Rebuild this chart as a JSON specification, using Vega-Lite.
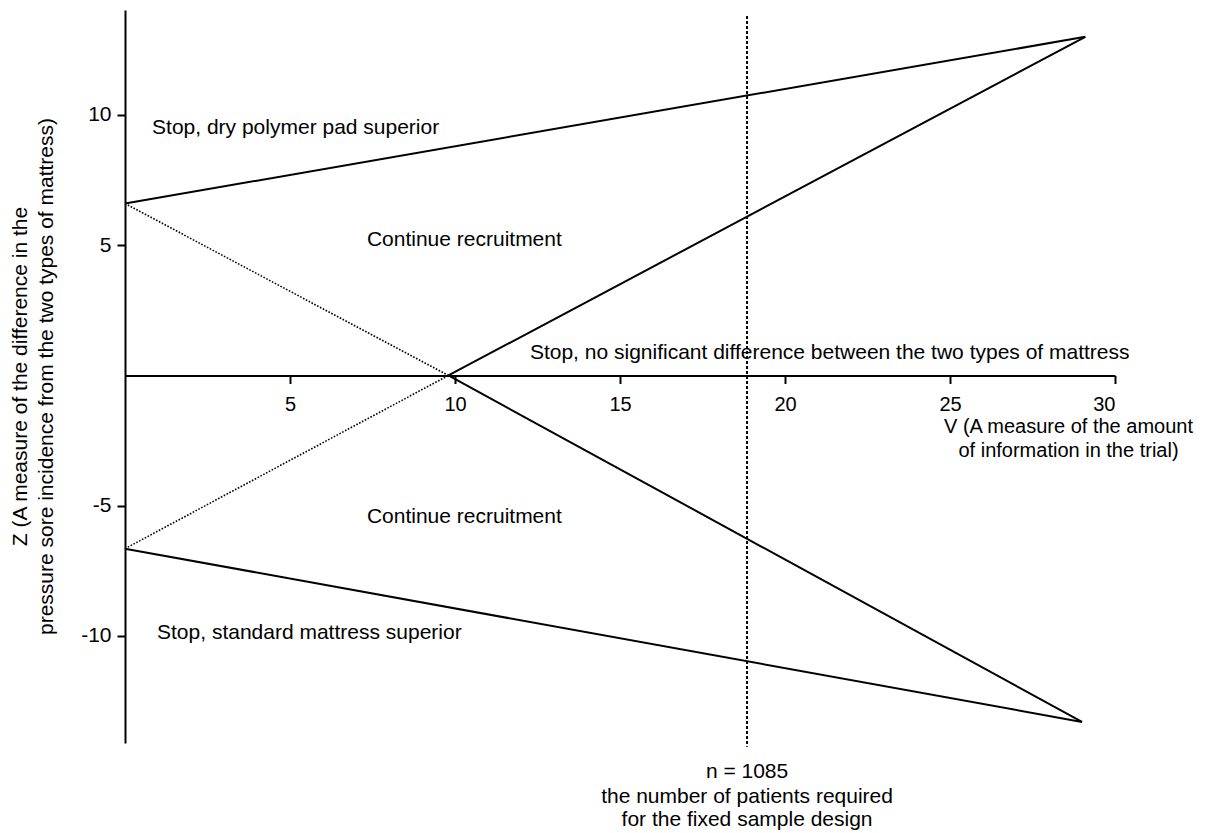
{
  "$schema": "https://vega.github.io/schema/vega-lite/v6.json",
  "width": 990,
  "height": 733,
  "autosize": {"type": "none"},
  "padding": {"left": 125, "top": 10, "right": 96, "bottom": 90},
  "background": "#ffffff",
  "config": {
    "view": {"stroke": null},
    "font": "Liberation Sans",
    "axis": {
      "grid": false,
      "domainColor": "black",
      "domainWidth": 2,
      "tickColor": "black",
      "tickWidth": 2,
      "tickSize": 8,
      "labelColor": "black",
      "labelFont": "Liberation Sans",
      "labelFontSize": 21,
      "titleColor": "black",
      "titleFont": "Liberation Sans",
      "titleFontSize": 21,
      "titleFontWeight": "normal"
    }
  },
  "datasets": {
    "boundaries": [
      {"seg": "upper_outer", "style": "solid", "V": 0, "Z": 6.6},
      {"seg": "upper_outer", "style": "solid", "V": 29.1, "Z": 13.0},
      {"seg": "lower_outer", "style": "solid", "V": 0, "Z": -6.65},
      {"seg": "lower_outer", "style": "solid", "V": 29.0, "Z": -13.3},
      {"seg": "upper_inner", "style": "solid", "V": 9.8, "Z": 0},
      {"seg": "upper_inner", "style": "solid", "V": 29.1, "Z": 13.0},
      {"seg": "lower_inner", "style": "solid", "V": 9.8, "Z": 0},
      {"seg": "lower_inner", "style": "solid", "V": 29.0, "Z": -13.3},
      {"seg": "upper_dot", "style": "dotted", "V": 0, "Z": 6.6},
      {"seg": "upper_dot", "style": "dotted", "V": 9.8, "Z": 0},
      {"seg": "lower_dot", "style": "dotted", "V": 0, "Z": -6.65},
      {"seg": "lower_dot", "style": "dotted", "V": 9.8, "Z": 0},
      {"seg": "fixed", "style": "dashed", "V": 18.85, "Z": 13.8},
      {"seg": "fixed", "style": "dashed", "V": 18.85, "Z": -14.25}
    ],
    "regions": [
      {"V": 0.82, "Z": 9.5, "label": "Stop, dry polymer pad superior"},
      {"V": 7.33, "Z": 5.2, "label": "Continue recruitment"},
      {"V": 12.27, "Z": 0.86, "label": "Stop, no significant difference between the two types of mattress"},
      {"V": 7.33, "Z": -5.43, "label": "Continue recruitment"},
      {"V": 0.97, "Z": -9.88, "label": "Stop, standard mattress superior"}
    ],
    "fixed_note": [
      {"V": 18.85, "Z": -15.22, "label": "n = 1085"},
      {"V": 18.85, "Z": -16.18, "label": "the number of patients required"},
      {"V": 18.85, "Z": -17.06, "label": "for the fixed sample design"}
    ]
  },
  "layer": [
    {
      "data": {"name": "boundaries"},
      "transform": [{"filter": "datum.style === 'solid'"}],
      "mark": {"type": "line", "color": "black", "strokeWidth": 2},
      "encoding": {
        "x": {
          "field": "V",
          "type": "quantitative",
          "scale": {"domain": [0, 30], "nice": false, "zero": false},
          "axis": {
            "offset": -367.5,
            "values": [5, 10, 15, 20, 25, 30],
            "labelFontSize": 20,
            "labelPadding": 11,
            "title": ["V (A measure of the amount", "of information in the trial)"],
            "titleFontSize": 20,
            "titleX": 943,
            "titleY": 51,
            "titleAlign": "center",
            "titleBaseline": "middle",
            "titleLineHeight": 24
          }
        },
        "y": {
          "field": "Z",
          "type": "quantitative",
          "scale": {"domain": [-14.11, 14.03], "nice": false, "zero": false},
          "axis": {
            "values": [-10, -5, 5, 10],
            "labelExpr": "toString(datum.value)",
            "labelPadding": 6,
            "title": ["Z (A measure of the difference in the", "pressure sore incidence from the two types of mattress)"],
            "titleX": -105,
            "titleY": 366,
            "titleAngle": -90,
            "titleAlign": "center",
            "titleBaseline": "middle",
            "titleLineHeight": 26
          }
        },
        "detail": {"field": "seg"}
      }
    },
    {
      "data": {"name": "boundaries"},
      "transform": [{"filter": "datum.style === 'dotted'"}],
      "mark": {"type": "line", "color": "black", "strokeWidth": 1.6, "strokeDash": [1.6, 1.6]},
      "encoding": {
        "x": {"field": "V", "type": "quantitative"},
        "y": {"field": "Z", "type": "quantitative"},
        "detail": {"field": "seg"}
      }
    },
    {
      "data": {"name": "boundaries"},
      "transform": [{"filter": "datum.style === 'dashed'"}],
      "mark": {"type": "line", "color": "black", "strokeWidth": 2, "strokeDash": [3, 2]},
      "encoding": {
        "x": {"field": "V", "type": "quantitative"},
        "y": {"field": "Z", "type": "quantitative"},
        "detail": {"field": "seg"}
      }
    },
    {
      "data": {"name": "regions"},
      "mark": {"type": "text", "align": "left", "baseline": "middle", "fontSize": 21, "font": "Liberation Sans", "color": "black"},
      "encoding": {
        "x": {"field": "V", "type": "quantitative"},
        "y": {"field": "Z", "type": "quantitative"},
        "text": {"field": "label"}
      }
    },
    {
      "data": {"name": "fixed_note"},
      "mark": {"type": "text", "align": "center", "baseline": "middle", "fontSize": 21, "font": "Liberation Sans", "color": "black"},
      "encoding": {
        "x": {"field": "V", "type": "quantitative"},
        "y": {"field": "Z", "type": "quantitative"},
        "text": {"field": "label"}
      }
    }
  ]
}
